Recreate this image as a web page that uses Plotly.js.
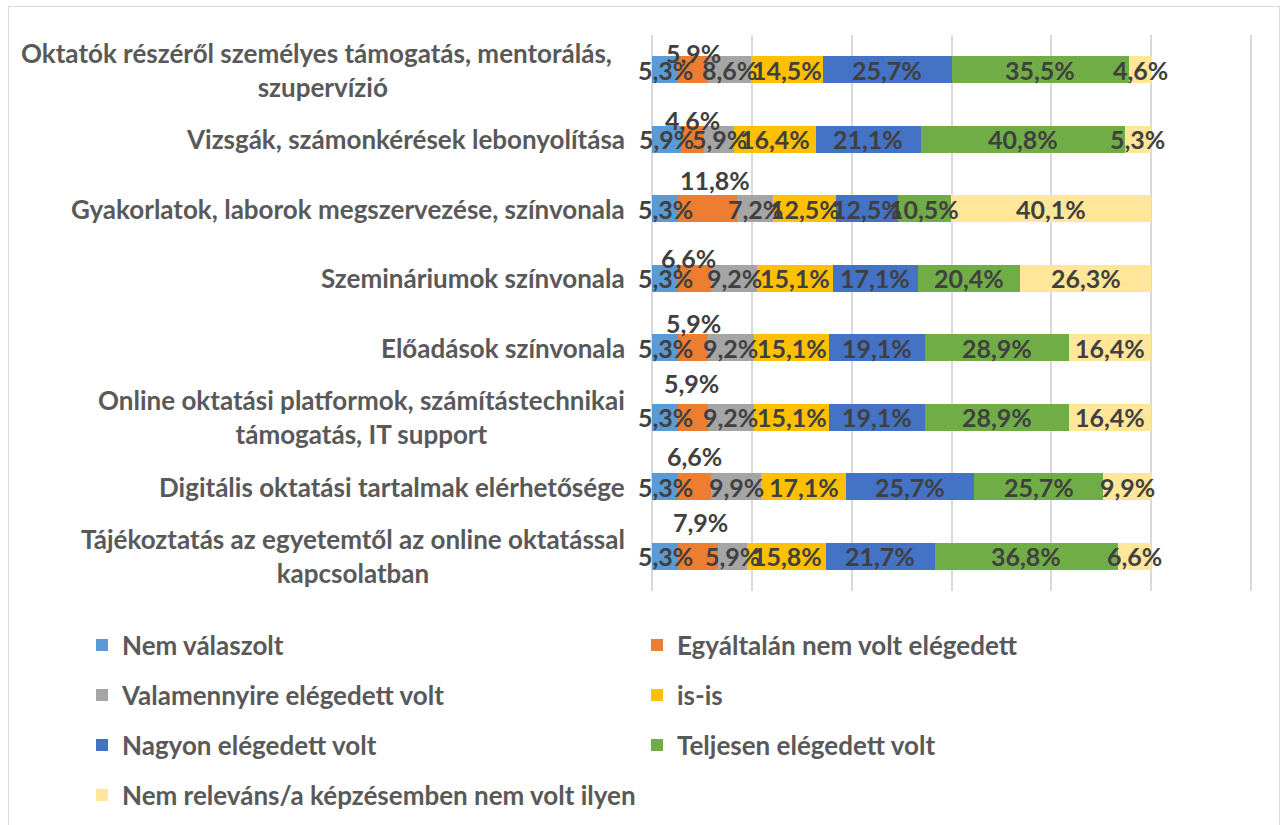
<!DOCTYPE html>
<html>
<head>
<meta charset="utf-8">
<script src="https://cdn.plot.ly/plotly-3.0.1.min.js"></script>
<style>
  html, body { margin: 0; padding: 0; background: #ffffff; overflow: hidden; }
  #chart { width: 1282px; height: 825px; }
  #frame { position: absolute; left: 8px; top: 6px; width: 1270px; height: 840px;
           border: 1px solid #d9d9d9; pointer-events: none; }
</style>
</head>
<body>
<div id="chart"></div>
<div id="frame"></div>
<script>
// ---------------- DATA ----------------
const categories = [
  "Oktatók részéről személyes támogatás, mentorálás, szupervízió",
  "Vizsgák, számonkérések lebonyolítása",
  "Gyakorlatok, laborok megszervezése, színvonala",
  "Szemináriumok színvonala",
  "Előadások színvonala",
  "Online oktatási platformok, számítástechnikai támogatás, IT support",
  "Digitális oktatási tartalmak elérhetősége",
  "Tájékoztatás az egyetemtől az online oktatással kapcsolatban"
];
const categoryLabels = [
  "Oktatók részéről személyes támogatás, mentorálás,&nbsp;&nbsp;<br>szupervízió",
  "Vizsgák, számonkérések lebonyolítása",
  "Gyakorlatok, laborok megszervezése, színvonala",
  "Szemináriumok színvonala",
  "Előadások színvonala",
  "Online oktatási platformok, számítástechnikai<br>támogatás, IT support",
  "Digitális oktatási tartalmak elérhetősége",
  "Tájékoztatás az egyetemtől az online oktatással<br>kapcsolatban"
];
const seriesNames = [
  "Nem válaszolt",
  "Egyáltalán nem volt elégedett",
  "Valamennyire elégedett volt",
  "is-is",
  "Nagyon elégedett volt",
  "Teljesen elégedett volt",
  "Nem releváns/a képzésemben nem volt ilyen"
];
const nemValaszolt  = [5.3, 5.9, 5.3, 5.3, 5.3, 5.3, 5.3, 5.3];
const egyaltalanNem = [5.9, 4.6, 11.8, 6.6, 5.9, 5.9, 6.6, 7.9];
const valamennyire  = [8.6, 5.9, 7.2, 9.2, 9.2, 9.2, 9.9, 5.9];
const isIs          = [14.5, 16.4, 12.5, 15.1, 15.1, 15.1, 17.1, 15.8];
const nagyon        = [25.7, 21.1, 12.5, 17.1, 19.1, 19.1, 25.7, 21.7];
const teljesen      = [35.5, 40.8, 10.5, 20.4, 28.9, 28.9, 25.7, 36.8];
const nemRelevans   = [4.6, 5.3, 40.1, 26.3, 16.4, 16.4, 9.9, 6.6];

// ---------------- STYLE ----------------
const seriesValues = [nemValaszolt, egyaltalanNem, valamennyire, isIs, nagyon, teljesen, nemRelevans];
const colors = ["#5B9BD5", "#ED7D31", "#A5A5A5", "#FFC000", "#4472C4", "#70AD47", "#FFE699"];
// the orange labels sit lifted above their bars (pixel offsets per row, up = positive)
const liftedSeries = 1;
const liftUp = [17, 19, 29, 20, 25, 34, 31, 34];
const liftX  = [0, 0, 7, -6, 0, -2, 0, 2];

const W = 1282, H = 825;
const M = { l: 652, r: 21, t: 35, b: 234, autoexpand: false };
const X_MAX = 122;   // plot area runs a bit past the last (120 %) gridline
const FONT = "Lato, 'Open Sans', sans-serif";
const labelSize = 25, catSize = 26, legendSize = 26;
const pxToPaperX = px => (px - M.l) / (W - M.l - M.r);
const pxToPaperY = py => (H - M.b - py) / (H - M.t - M.b);

const fmt = v => v.toFixed(1).replace('.', ',') + '%';

// legends: two columns, one legend per row
const legendRows = [645, 695, 745, 795];
const legendOf = i => { const r = Math.floor(i / 2); return r === 0 ? 'legend' : 'legend' + (r + 1); };

const traces = seriesValues.map((vals, i) => ({
  type: 'bar',
  orientation: 'h',
  name: seriesNames[i],
  y: categories,
  x: vals,
  marker: { color: colors[i], line: { width: 0 } },
  legend: legendOf(i),
  hoverinfo: 'name+x'
}));

// data labels
const annotations = [];
const cum = categories.map(() => 0);
seriesValues.forEach((vals, s) => {
  vals.forEach((v, r) => {
    const center = cum[r] + v / 2;
    cum[r] += v;
    const a = {
      x: center, y: categories[r], xref: 'x', yref: 'y',
      text: fmt(v), showarrow: false,
      font: { family: FONT, size: labelSize, color: '#404040', weight: 'bold' }
    };
    if (s === liftedSeries) { a.yshift = liftUp[r]; a.xshift = liftX[r]; }
    annotations.push(a);
  });
});
// category labels
categories.forEach((c, r) => {
  annotations.push({
    x: 0, xref: 'paper', xanchor: 'right', xshift: -25,
    y: c, yref: 'y', yanchor: 'middle',
    text: categoryLabels[r], align: 'center', showarrow: false,
    font: { family: FONT, size: catSize, color: '#595959', weight: 'bold' }
  });
});

const legendBase = {
  orientation: 'h', entrywidth: 510, entrywidthmode: 'pixels',
  x: pxToPaperX(82), xanchor: 'left', yanchor: 'middle',
  font: { family: FONT, size: legendSize, color: '#595959', weight: 'bold' },
  bgcolor: 'rgba(0,0,0,0)', borderwidth: 0, traceorder: 'normal'
};

const layout = {
  width: W, height: H,
  margin: M,
  paper_bgcolor: '#ffffff', plot_bgcolor: '#ffffff',
  barmode: 'stack', bargap: 0.61,
  showlegend: true,
  xaxis: {
    range: [0, X_MAX], autorange: false, dtick: 20, tick0: 0,
    showgrid: true, gridcolor: '#d9d9d9', gridwidth: 1.5,
    zeroline: true, zerolinecolor: '#d9d9d9', zerolinewidth: 1.5,
    showticklabels: false, ticks: '', showline: false, fixedrange: true
  },
  yaxis: {
    categoryorder: 'array', categoryarray: categories,
    range: [categories.length - 0.5, -0.5], autorange: false,
    showticklabels: false, showgrid: false, zeroline: false, ticks: '', showline: false,
    fixedrange: true
  },
  annotations: annotations,
  legend:  Object.assign({}, legendBase, { y: pxToPaperY(legendRows[0]) }),
  legend2: Object.assign({}, legendBase, { y: pxToPaperY(legendRows[1]) }),
  legend3: Object.assign({}, legendBase, { y: pxToPaperY(legendRows[2]) }),
  legend4: Object.assign({}, legendBase, { y: pxToPaperY(legendRows[3]) })
};

Plotly.newPlot('chart', traces, layout, { displayModeBar: false });
</script>
</body>
</html>
